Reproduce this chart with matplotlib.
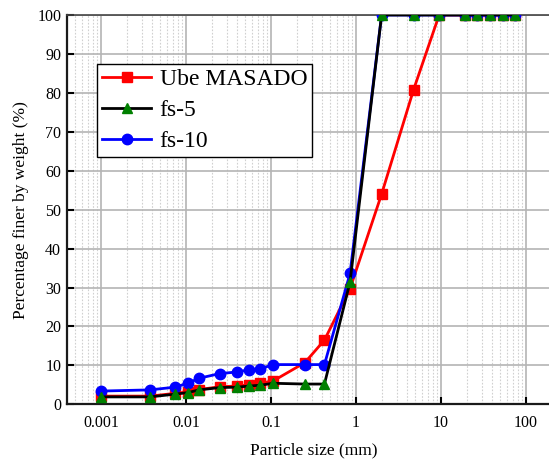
import matplotlib.pyplot as plt
from matplotlib.ticker import LogLocator, FixedLocator, NullFormatter

# Particle size (mm) shared by all three gradings
particle_size = [0.001, 0.00377, 0.0074, 0.0105, 0.0143, 0.0251, 0.040, 0.0556, 0.075, 0.106,
                 0.25, 0.425, 0.85, 2.0, 4.75, 9.5, 19, 26.5, 37.5, 53, 75]

# Percentage finer by weight (%)
ube_masado = [2.1, 2.1, 2.8, 3.2, 3.8, 4.5, 4.7, 5.0, 5.4, 6.0,
              10.7, 16.5, 29.7, 54.0, 80.8, 100, 100, 100, 100, 100, 100]
fs_5 = [1.9, 1.9, 2.6, 3.0, 3.7, 4.3, 4.4, 4.7, 4.9, 5.4,
        5.2, 5.2, 31.4, 100, 100, 100, 100, 100, 100, 100, 100]
fs_10 = [3.4, 3.7, 4.4, 5.4, 6.7, 7.9, 8.3, 8.9, 9.1, 10.2,
         10.2, 10.2, 33.6, 100, 100, 100, 100, 100, 100, 100, 100]

x_ticks = [0.001, 0.01, 0.1, 1, 10, 100]
x_tick_labels = ['0.001', '0.01', '0.1', '1', '10', '100']
y_ticks = list(range(0, 101, 10))

plt.rcParams['font.family'] = ['Liberation Serif', 'DejaVu Serif']

fig = plt.figure(figsize=(5.49, 4.61), dpi=100)
ax = fig.add_axes([0.1215, 0.123, 0.8986, 0.8445])

# Draw the curves (fs-10 below fs-5 so the black line sits on top)
l1, = ax.plot(particle_size, ube_masado, color='red', lw=2, marker='s', ms=6.8,
              mfc='red', mec='red', label='Ube MASADO', zorder=3)
l3, = ax.plot(particle_size, fs_10, color='blue', lw=2, marker='o', ms=7.5,
              mfc='blue', mec='blue', label='fs-10', zorder=3.2)
l2, = ax.plot(particle_size, fs_5, color='black', lw=2, marker='^', ms=7.8,
              mfc='green', mec='green', label='fs-5', zorder=3.4)

ax.set_xscale('log')
ax.set_xlim(0.000395, 251)
ax.set_ylim(0, 100)

ax.xaxis.set_major_locator(FixedLocator(x_ticks))
ax.set_xticklabels(x_tick_labels)
ax.xaxis.set_minor_locator(LogLocator(base=10, subs=range(2, 10), numticks=20))
ax.xaxis.set_minor_formatter(NullFormatter())
ax.set_yticks(y_ticks)

# Grid
ax.grid(True, which='major', color='#b4b4b4', lw=1.2, ls='-', zorder=0)
ax.grid(True, which='minor', axis='x', color='#d0d0d0', lw=0.8, ls=(0, (1.5, 1.5)), zorder=0)
ax.set_axisbelow(True)

ax.tick_params(axis='both', which='major', direction='in', length=5, width=1.5,
               labelsize=11.5, pad=8, top=False, right=False)
ax.tick_params(axis='x', which='minor', length=0)
ax.tick_params(axis='y', pad=4)

for side in ['left', 'bottom']:
    ax.spines[side].set_linewidth(1.6)
    ax.spines[side].set_color('#1a1a1a')
ax.spines['top'].set_linewidth(1.2)
ax.spines['top'].set_color('#444444')
ax.spines['right'].set_visible(False)

ax.set_xlabel('Particle size (mm)', fontsize=12.5, labelpad=8)
ax.set_ylabel('Percentage finer by weight (%)', fontsize=12.5, labelpad=6)

leg = ax.legend(handles=[l1, l2, l3], loc='upper left', bbox_to_anchor=(0.0614, 0.874),
                borderaxespad=0, fontsize=17, handlelength=2.1, handletextpad=0.35,
                borderpad=0.2, labelspacing=0.4, fancybox=False, framealpha=1,
                edgecolor='black')
leg.get_frame().set_linewidth(1.0)

plt.savefig('out.png', dpi=100)
